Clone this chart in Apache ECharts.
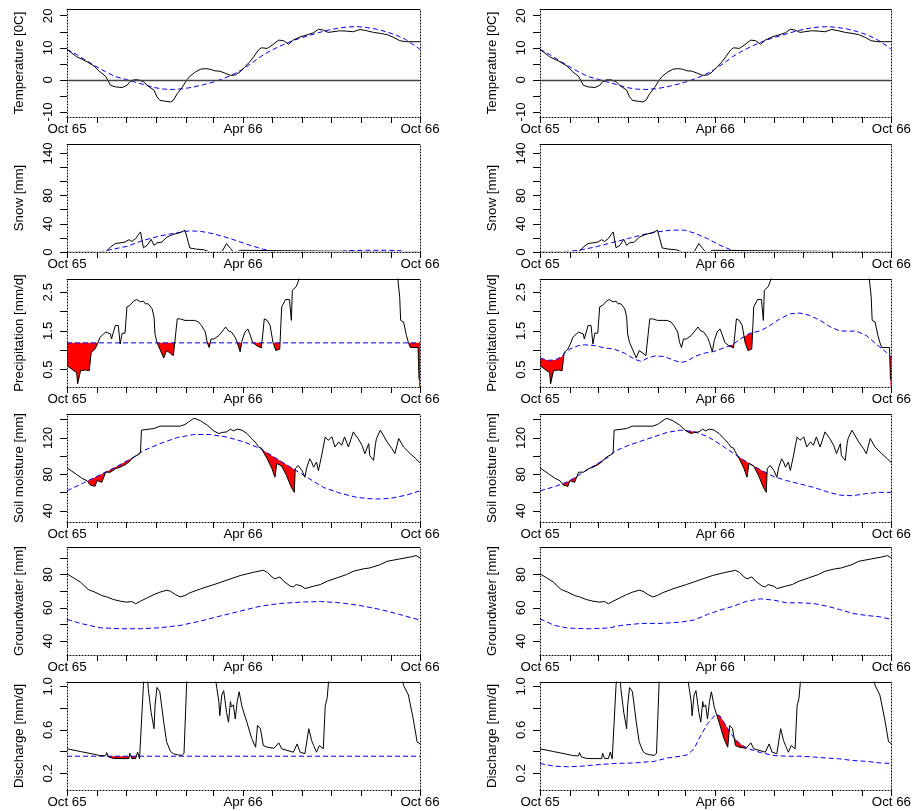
<!DOCTYPE html>
<html><head><meta charset="utf-8">
<script src="https://cdn.jsdelivr.net/npm/echarts@6/dist/echarts.min.js"></script>
<style>html,body{margin:0;padding:0;background:#fff}#c{width:914px;height:811px}</style>
</head><body><div id="c"></div><script>
// ---- time axis (days since 1 Oct 1965) ----
const monthTickDays = [0,31,61,92,123,151,182,212,243,273,304,335,365];
const xLabelDays = [0,182,365];
const xLabels = ['Oct 65','Apr 66','Oct 66'];

// ---- y axes ----
const yNames = ['Temperature [0C]','Snow [mm]','Precipitation [mm/d]','Soil moisture [mm]','Groundwater [mm]','Discharge [mm/d]'];
const yMins = [-11.6, 0, 0.05, 27.8, 31.6, 0.046];
const yMaxs = [22.1, 153.3, 2.84, 146.2, 96.6, 1.04];
const tempTicks = [-10,-5,0,5,10,15,20], tempLabels = [-10,0,10,20];
const snowTicks = [0,20,40,60,80,100,120,140], snowLabels = [0,40,80,140];
const precTicks = [0.5,1,1.5,2,2.5], precLabels = [0.5,1.5,2.5];
const soilTicks = [40,60,80,100,120,140], soilLabels = [40,80,120];
const gwTicks = [40,50,60,70,80,90], gwLabels = [40,60,80];
const qTicks = [0.2,0.4,0.6,0.8,1.0], qLabels = [0.2,0.6,1.0];
const yDecimals = [0,0,1,0,0,1];

// ---- Temperature ----
const tempObsDays = [0,10,21,28,34,40,45,50,57,62,65,69,74,79,84,90,93,96,102,107,110,114,119,124,127,133,138,143,148,153,158,164,169,174,179,184,189,193,198,201,207,212,219,224,229,234,241,248,255,260,265,270,275,282,289,296,303,310,317,324,331,338,344,351,358,365];
const tempObs = [9.5,7.2,5.6,4.3,2.5,1.1,-1.7,-2.2,-2.4,-1.7,-0.6,0,0,-0.6,-2,-3.2,-5.3,-6.4,-6.7,-6.9,-6.4,-4.3,-2.4,0,1.1,2.5,3.3,3.5,3.3,2.8,2.7,2.0,1.4,1.5,2.5,4.1,5.6,7.2,9.3,10,9.8,10.8,12.4,12.2,11.1,12.4,13.4,14,14.7,15.8,15.5,14.8,15,15.3,15.2,15,15.7,15.3,14.8,14.5,14.1,13.2,12.2,11.9,11.9,11.9];
const tempRefDays = [0,10,20,30,40,50,60,70,80,90,100,110,120,130,140,150,160,170,180,190,200,210,220,230,240,250,260,270,280,290,300,310,320,330,340,350,360,365];
const tempRef = [9.5,7.9,6.0,4.2,2.5,1.0,0.2,-0.7,-1.5,-2.4,-2.9,-3.0,-2.8,-2.3,-1.6,-0.8,0.2,1.4,3.0,5.0,7.2,9.0,10.5,11.8,12.9,13.8,14.7,15.5,16.1,16.5,16.6,16.3,15.8,15.0,14.0,12.6,10.6,9.5];

// ---- Snow ----
const snowObsDays = [0,40,45,50,55,60,64,67,71,74,76,79,83,87,90,93,98,103,110,117,122,124,127,134,141,148,160,165,169,172,174,176,179,181,365];
const snowObs = [0,0,7,12,13,14,17.5,15,19,25,28.5,6,9.5,18,9.5,13,14,21,25,27.5,31,21,5.7,4,3.3,0,0,12,5,0,2.4,0,2.4,0,0];
const snowRefLeftDays = [0,34,45,62,79,96,114,127,138,151,169,186,203,217,280,290,310,330,344,350,365];
const snowRefLeft = [0,0,3.3,8,16.6,22.8,27.5,30,29.4,26,19,11,3.8,0,0,2,2.5,2.5,2,0,0];
const snowRefRightDays = [0,20,30,40,57,74,91,108,122,136,150,160,174,187,198,212,365];
const snowRefRight = [0,0.5,1,2.4,7,13,19,25,28.5,31,31,27,19,9.5,3.3,0,0];

// ---- Precipitation ----
const precObsDays = [0,5,10,11,14,19,23,25,29,32,34,40,41,45,46,50,53,55,57,60,62,65,69,72,76,79,81,84,88,90,91,93,96,100,103,107,110,112,114,117,122,127,132,136,139,143,145,147,149,152,157,160,164,167,170,174,176,179,181,184,187,189,192,196,201,204,207,210,213,216,220,222,226,230,232,233,237,241,245,340,342,344,345,348,351,353,355,363,364,365];
const precObs = [0.6,0.51,0.42,0.13,0.47,0.49,0.47,0.94,1.03,1.19,1.33,1.47,1.5,1.42,1.29,1.64,1.64,1.16,1.44,1.44,2.12,2.16,2.27,2.31,2.25,2.27,2.2,2.2,2.07,1.86,1.42,1.2,1.03,0.8,0.99,0.92,0.86,0.9,1.81,1.81,1.77,1.77,1.77,1.73,1.64,1.47,1.2,1.07,1.29,1.29,1.38,1.47,1.6,1.5,1.47,1.33,1.2,0.96,1.25,1.47,1.55,1.42,1.2,1.12,1.06,1.81,1.77,1.64,1.2,0.99,1.03,2.12,2.31,2.31,1.77,2.55,2.64,2.9,3.2,3.2,2.86,2.38,1.77,1.73,1.38,1.2,1.07,1.07,0.25,0.25];
const precRefLeftDays = [0,365];
const precRefLeft = [1.19,1.19];
const precRefRightDays = [0,8,16,23,26,31,40,46,57,67,77,88,98,105,112,119,129,139,146,153,160,170,181,191,200,208,218,229,239,249,260,270,280,291,301,311,322,328,339,349,360,365];
const precRefRight = [0.80,0.74,0.75,0.84,0.94,1.03,1.12,1.14,1.12,1.06,1.03,0.92,0.77,0.71,0.8,0.85,0.84,0.74,0.68,0.72,0.83,0.92,0.97,1.06,1.14,1.29,1.44,1.5,1.64,1.81,1.94,1.96,1.9,1.77,1.61,1.5,1.49,1.5,1.38,1.16,0.94,0.81];

// ---- Soil moisture ----
const soilObsDays = [0,5,10,15,21,24,29,31,36,38,40,45,50,55,60,64,67,71,74,76,77,79,90,91,96,117,122,126,131,134,138,145,152,157,160,165,169,172,176,181,186,191,196,198,201,203,207,212,215,217,222,227,232,235,236,239,243,246,248,251,253,255,258,260,263,267,270,274,277,281,284,287,291,296,301,305,308,312,313,317,319,320,324,327,331,336,339,343,348,355,360,365];
const soilObs = [87.2,83.5,79.8,76.1,72.8,68.4,66.9,73.2,71.3,70.6,82.4,82.4,86.1,87.9,90.5,93.5,97.1,100.1,101.6,104.5,128.5,129.6,130.3,132.2,132.9,132.9,134.7,137.7,141.4,140.6,138.8,134,127.4,124.8,125.9,126.6,129.6,127.7,129.6,128.5,124.8,119.3,113.7,110,108.9,104.5,97.1,86.1,76.9,92,89,78.7,65.8,60.3,86.1,89.8,84.2,76.9,87.9,97.1,93.5,87.9,93.5,84.2,99,121.1,117.4,121.1,110,115.6,111.9,121.1,110,126.6,119.3,111.9,102.7,113.7,100.8,95.3,113.7,119.3,128.5,123,115.6,108.2,102.7,119.3,110,102.7,97.9,92.7];
const soilRefLeftDays = [0,17,34,52,69,79,96,114,131,148,165,183,200,214,231,248,265,282,300,317,334,351,365];
const soilRefLeft = [62,70.6,79.4,89,99,106,113.7,120.4,123.7,123.7,121,115.6,108.2,99,88,76.9,65.8,59.5,54.7,52.9,53.6,57.3,62];
const soilRefRightDays = [0,15,29,43,57,71,79,91,105,119,132,146,160,174,187,201,215,229,243,256,270,284,298,311,325,339,353,365];
const soilRefRight = [62,66.5,72,81,90,99,106,111.5,116.5,121.5,126,128.5,127,121.5,113,103,93.5,85,77.5,73.2,69.5,65.8,61,57.3,56.6,59,60.3,60.3];

// ---- Groundwater ----
const gwObsDays = [0,7,14,22,29,36,41,48,55,62,67,71,76,83,90,96,103,107,112,117,122,127,138,152,165,179,193,203,207,212,215,220,224,231,234,237,243,246,255,262,269,279,289,296,306,313,324,331,344,355,361,365];
const gwObs = [80.4,78,75.4,71,69.4,67.4,66.6,65,64,63.4,63.8,62.4,64,66,68,69.4,70.6,70,68,66.6,67.4,69,71.4,74,76.6,79.4,81.4,82.6,81.4,78.6,77.4,78.6,76,73,72.6,74,73,71.6,73,74,76,78,80,82,83.4,84,86,88,89.4,90.6,91.4,90];
const gwRefLeftDays = [0,14,34,55,76,96,117,138,158,179,200,220,241,262,282,303,324,344,365];
const gwRefLeft = [53,50.6,48,47.4,47.4,48,49.4,52,55,58,61,62.6,63.4,63.8,63,61.4,59,56,52.6];
const gwRefRightDays = [0,15,29,50,71,84,105,126,146,160,174,187,201,215,229,243,256,270,284,298,311,325,339,353,365];
const gwRefRight = [53.4,49.4,47.8,47.4,47.8,49.4,50.6,50.6,51.4,52.6,56,58.6,61,64,65.4,64.6,63,63,62.6,61,59,56.6,55.4,54.6,53];

// ---- Discharge ----
const qObsDays = [0,14,28,34,40,41,43,48,55,64,65,67,71,73,75,76,79,80,83,84,87,90,91,93,96,100,103,107,110,114,119,121,122,124,153,155,157,158,160,162,165,167,169,170,172,174,176,178,181,186,191,195,197,200,203,207,214,219,222,234,238,241,246,248,250,253,255,257,258,261,263,265,267,269,271,346,348,353,358,362,365];
const qObs = [0.425,0.4,0.375,0.363,0.36,0.39,0.35,0.337,0.335,0.335,0.385,0.336,0.335,0.395,0.333,0.34,1.01,1.1,1.1,0.98,0.76,0.61,0.82,0.99,0.95,0.67,0.49,0.4,0.38,0.37,0.365,0.385,0.37,1.1,1.1,0.98,0.86,0.73,0.92,0.96,0.76,0.67,0.86,0.81,0.83,0.7,0.86,0.95,0.81,0.67,0.52,0.44,0.64,0.61,0.455,0.44,0.43,0.48,0.425,0.394,0.47,0.394,0.38,0.38,0.61,0.5,0.455,0.46,0.394,0.455,0.45,0.425,0.82,0.89,1.1,1.1,1.01,0.92,0.7,0.49,0.47];
const qRefLeftDays = [0,365];
const qRefLeft = [0.357,0.357];
const qRefRightDays = [0,15,29,43,57,77,98,119,132,146,153,160,167,174,181,184,187,194,201,208,215,229,243,256,270,284,298,311,325,339,353,365];
const qRefRight = [0.29,0.265,0.26,0.265,0.277,0.29,0.295,0.31,0.34,0.357,0.37,0.425,0.55,0.655,0.726,0.74,0.726,0.625,0.532,0.47,0.43,0.39,0.363,0.357,0.357,0.35,0.34,0.333,0.317,0.31,0.295,0.29];

// ---- layout ----
const colLeft = [67, 540];
const colWidth = [353, 354];
const rowTop = [9, 144, 279, 414, 547, 682];
const rowHeight = 108;
const FONT = 'Liberation Sans, Arial, sans-serif';
const dotted = [1, 2];

const tickSets = [tempTicks, snowTicks, precTicks, soilTicks, gwTicks, qTicks];
const labelSets = [tempLabels, snowLabels, precLabels, soilLabels, gwLabels, qLabels];

const zip = (d, v) => d.map((x, i) => [x, v[i]]);

const grids = [], xAxes = [], yAxes = [], series = [];

function addPanel(row, col) {
  const gi = grids.length;
  grids.push({left: colLeft[col], top: rowTop[row], width: colWidth[col], height: rowHeight, containLabel: false});
  xAxes.push({
    type: 'value', gridIndex: gi, min: 0, max: 365, position: 'bottom', z: 10,
    axisLine: {show: true, onZero: false, lineStyle: {color: '#000', width: 1, type: dotted}},
    axisTick: {show: true, customValues: monthTickDays, length: 6, lineStyle: {color: '#000', width: 1}},
    axisLabel: {show: true, customValues: xLabelDays, margin: 6, fontSize: 13.3, fontFamily: FONT, color: '#000',
      formatter: v => xLabels[xLabelDays.indexOf(Math.round(v))] || ''},
    splitLine: {show: false}
  });
  xAxes.push({
    type: 'value', gridIndex: gi, min: 0, max: 365, position: 'top', z: 10,
    axisLine: {show: true, onZero: false, lineStyle: {color: '#000', width: 1}},
    axisTick: {show: false}, axisLabel: {show: false}, splitLine: {show: false}
  });
  const dec = yDecimals[row];
  yAxes.push({
    type: 'value', gridIndex: gi, min: yMins[row], max: yMaxs[row], position: 'left', z: 10,
    name: yNames[row], nameLocation: 'middle', nameRotate: 90, nameGap: 41,
    nameTextStyle: {fontSize: 13.3, fontFamily: FONT, color: '#000'},
    axisLine: {show: true, onZero: false, lineStyle: {color: '#000', width: 1, type: dotted}},
    axisTick: {show: true, customValues: tickSets[row], length: 7, lineStyle: {color: '#000', width: 1}},
    axisLabel: {show: true, customValues: labelSets[row], rotate: 90, margin: 12, fontSize: 13.3, fontFamily: FONT, color: '#000',
      formatter: v => dec ? Number(v).toFixed(dec) : String(Math.round(v))},
    splitLine: {show: false}
  });
  yAxes.push({
    type: 'value', gridIndex: gi, min: yMins[row], max: yMaxs[row], position: 'right', z: 10,
    axisLine: {show: true, onZero: false, lineStyle: {color: '#000', width: 1, type: dotted}},
    axisTick: {show: false}, axisLabel: {show: false}, splitLine: {show: false}
  });
  return gi;
}

function lineSeries(gi, days, vals, color, dash, z, extra) {
  return Object.assign({
    type: 'line', xAxisIndex: 2 * gi, yAxisIndex: 2 * gi, data: zip(days, vals),
    showSymbol: false, symbol: 'none', z: z, silent: true, animation: false, clip: true,
    lineStyle: {color: color, width: 1, type: dash ? [5, 3] : 'solid'}
  }, extra || {});
}
function areaSeries(gi, row, days, vals, color, z) {
  // fill from the curve down past the axis bottom (clipped by the grid)
  const below = yMins[row] - (yMaxs[row] - yMins[row]);
  return {
    type: 'line', xAxisIndex: 2 * gi, yAxisIndex: 2 * gi, data: zip(days, vals),
    showSymbol: false, symbol: 'none', z: z, silent: true, animation: false, clip: true,
    lineStyle: {width: 0, opacity: 0},
    areaStyle: {color: color, opacity: 1, origin: below}
  };
}

function panelLines(gi, oDays, obs, rDays, ref, extra) {
  series.push(lineSeries(gi, rDays, ref, '#0000ff', true, 3));
  series.push(lineSeries(gi, oDays, obs, '#000000', false, 4, extra));
}
function panelFill(gi, row, oDays, obs, rDays, ref) {
  series.push(areaSeries(gi, row, rDays, ref, '#ff0000', 1));
  series.push(areaSeries(gi, row, oDays, obs, '#ffffff', 2));
  panelLines(gi, oDays, obs, rDays, ref);
}

const zeroLine = {markLine: {silent: true, symbol: 'none', animation: false, label: {show: false},
  lineStyle: {color: '#444', type: 'solid', width: 1.3}, data: [{yAxis: 0}]}};
// zero values of the snow series sit on the dotted frame, as in the original plot
const snowBase = {markLine: {silent: true, symbol: 'none', animation: false, label: {show: false},
  lineStyle: {color: '#fff', type: 'solid', width: 1.6}, data: [{yAxis: 0}]}};

for (let col = 0; col < 2; col++) {
  const L = col === 0;
  let g;
  g = addPanel(0, col); panelLines(g, tempObsDays, tempObs, tempRefDays, tempRef, zeroLine);
  g = addPanel(1, col); panelLines(g, snowObsDays, snowObs, L ? snowRefLeftDays : snowRefRightDays, L ? snowRefLeft : snowRefRight, snowBase);
  g = addPanel(2, col); panelFill(g, 2, precObsDays, precObs, L ? precRefLeftDays : precRefRightDays, L ? precRefLeft : precRefRight);
  g = addPanel(3, col); panelFill(g, 3, soilObsDays, soilObs, L ? soilRefLeftDays : soilRefRightDays, L ? soilRefLeft : soilRefRight);
  g = addPanel(4, col); panelLines(g, gwObsDays, gwObs, L ? gwRefLeftDays : gwRefRightDays, L ? gwRefLeft : gwRefRight);
  g = addPanel(5, col); panelFill(g, 5, qObsDays, qObs, L ? qRefLeftDays : qRefRightDays, L ? qRefLeft : qRefRight);
}

const chart = echarts.init(document.getElementById('c'), null, {renderer: 'canvas'});
chart.setOption({animation: false, backgroundColor: '#fff', grid: grids, xAxis: xAxes, yAxis: yAxes, series: series});
</script></body></html>
